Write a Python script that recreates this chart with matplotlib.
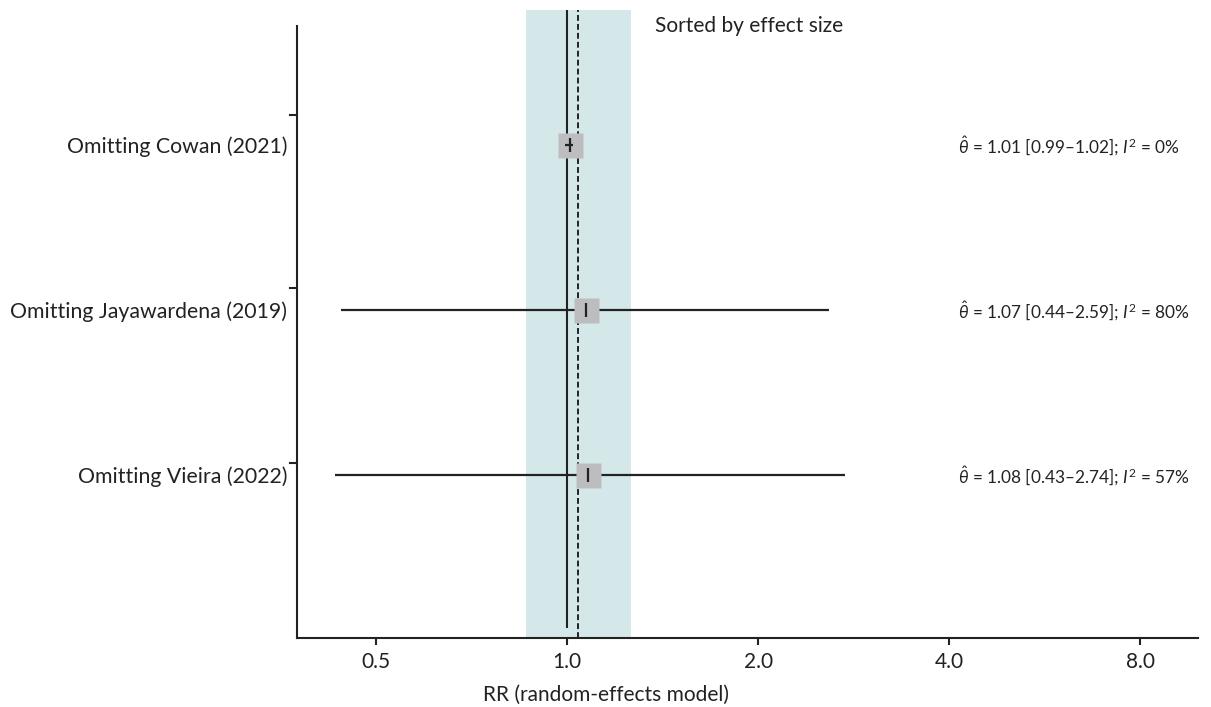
import numpy as np
import matplotlib
matplotlib.use("Agg")
import matplotlib.pyplot as plt

plt.rcParams['font.family'] = ['Lato', 'DejaVu Sans']
plt.rcParams['mathtext.fontset'] = 'custom'
plt.rcParams['mathtext.rm'] = 'Lato'
plt.rcParams['mathtext.it'] = 'Lato:italic'

# leave-one-out results, top to bottom
labels = ["Omitting Cowan (2021)", "Omitting Jayawardena (2019)", "Omitting Vieira (2022)"]
est = [1.01, 1.07, 1.08]
lo = [0.99, 0.44, 0.43]
hi = [1.02, 2.59, 2.74]
i2 = [0, 80, 57]

pooled = 1.04
band = (0.86, 1.26)
xticks = [0.5, 1.0, 2.0, 4.0, 8.0]

dark = "#222222"
box_half = 1.045  # half width of the grey box as a ratio on the log axis

fig = plt.figure(figsize=(12.11, 7.07), dpi=100)
ax = fig.add_axes([0.2453, 0.0976, 0.744, 0.8883])

rows = np.arange(len(labels))
ax.set_xscale("log", base=2)
ax.set_xlim(0.375, 9.87)
ax.set_ylim(2.988, -0.818)

ax.axvspan(band[0], band[1], color="#d5e8e9", lw=0, zorder=0)
ax.vlines(1.0, -0.818, 2.927, color=dark, lw=1.5, zorder=2)
ax.axvline(pooled, color=dark, lw=1.4, ls=(0, (3, 1.6)), zorder=2)

for r, e, l, h, q in zip(rows, est, lo, hi, i2):
    # narrow intervals stay visible on top of the box
    inside = l >= e / box_half and h <= e * box_half
    ax.hlines(r, l, h, color=dark, lw=1.6, zorder=5 if inside else 3)
    ax.plot(e, r, marker="s", ms=18, color="#bdbdbf", mec="none", zorder=4)
    ax.plot(e, r, marker="|", ms=10, mew=1.6, color=dark, zorder=5)
    txt = r"$\hat{\theta}$ = %.2f [%.2f–%.2f]; $I^2$ = %d%%" % (e, l, h, q)
    ax.annotate(txt, xy=(0, r), xycoords=("figure pixels", "data"),
                xytext=(958, -6.5), textcoords=("figure pixels", "offset points"),
                fontsize=12.4, va="baseline", ha="left", color=dark)

ax.set_yticks(rows)
ax.set_yticklabels(labels, fontsize=15.3, color=dark)
ax.tick_params(axis="y", length=0, pad=7)
# left spine ticks sit between the rows
for yt in [-0.18, 0.867, 1.927]:
    ax.plot([-0.008, 0], [yt, yt], transform=ax.get_yaxis_transform(),
            color=dark, lw=1.5, clip_on=False)

ax.set_xticks(xticks)
ax.set_xticklabels(["%.1f" % t for t in xticks], fontsize=15, color=dark)
ax.minorticks_off()
ax.tick_params(axis="x", length=5, width=1.5, color=dark, pad=5)
ax.set_xlabel("RR (random-effects model)", fontsize=15, color=dark)
ax.xaxis.set_label_coords(0.343, -0.075)

for s in ["top", "right"]:
    ax.spines[s].set_visible(False)
for s in ["left", "bottom"]:
    ax.spines[s].set_linewidth(1.5)
    ax.spines[s].set_color(dark)
ax.spines["left"].set_bounds(2.988, -0.72)

fig.text(655 / 1211, 1 - 26 / 707, "Sorted by effect size", fontsize=15,
         ha="left", va="center", color=dark)

fig.savefig("out.png", dpi=100)
